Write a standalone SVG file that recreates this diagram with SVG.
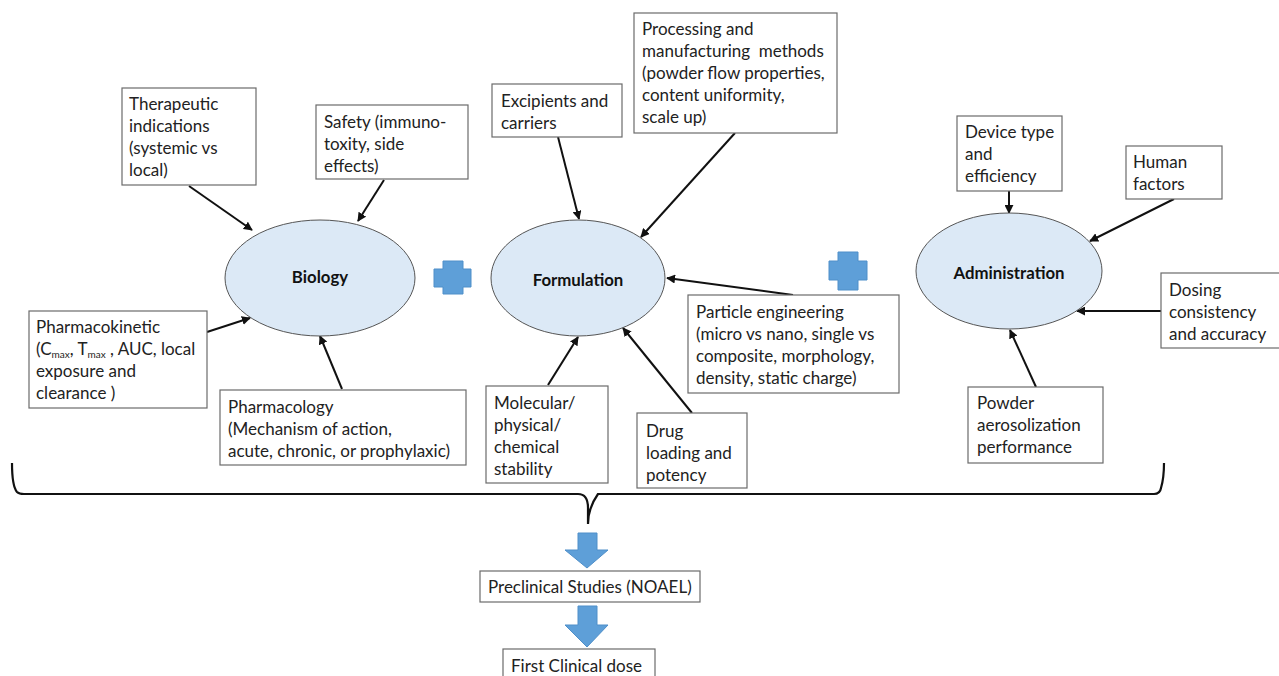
<svg xmlns="http://www.w3.org/2000/svg" width="1279" height="676" viewBox="0 0 1279 676">
<defs>
<style>
.box{fill:#fff;stroke:#6b6b6b;stroke-width:1.2}
.ell{fill:#dce9f6;stroke:#555;stroke-width:1}
.t{font-family:Lato,"Open Sans","Liberation Sans",sans-serif;font-size:17px;fill:#222}
.b{font-family:Lato,"Open Sans","Liberation Sans",sans-serif;font-size:16.8px;font-weight:bold;fill:#111;text-anchor:middle}
.sub{font-size:10px}
.con{stroke:#111;stroke-width:2;fill:none;marker-end:url(#ah)}
.plus{fill:#5e9fd8;stroke:#4f8fc9;stroke-width:1}
.brace{stroke:#111;stroke-width:2.2;fill:none}
</style>
<marker id="ah" viewBox="0 0 10 10" refX="9" refY="5" markerWidth="4.5" markerHeight="4.5" orient="auto" markerUnits="strokeWidth">
<path d="M0,0 L10,5 L0,10 z" fill="#111"/>
</marker>
</defs>
<rect width="1279" height="676" fill="#fff"/>

<g id="connectors">
<line class="con" x1="189" y1="186" x2="252" y2="230"/>
<line class="con" x1="384" y1="180" x2="358" y2="221"/>
<line class="con" x1="207" y1="332" x2="250" y2="318"/>
<line class="con" x1="342" y1="389" x2="320" y2="336"/>
<line class="con" x1="558" y1="137" x2="579" y2="219"/>
<line class="con" x1="735" y1="133" x2="641" y2="237"/>
<line class="con" x1="793" y1="295" x2="667" y2="278"/>
<line class="con" x1="548" y1="385" x2="578" y2="337"/>
<line class="con" x1="692" y1="413" x2="623" y2="328"/>
<line class="con" x1="1009" y1="191" x2="1009" y2="213"/>
<line class="con" x1="1174" y1="199" x2="1090" y2="241"/>
<line class="con" x1="1161" y1="311" x2="1077" y2="311"/>
<line class="con" x1="1036" y1="387" x2="1010" y2="330"/>
</g>

<g id="biology">
<ellipse class="ell" cx="320" cy="278" rx="95" ry="58"/>
<text class="b" x="320" y="283">Biology</text>
</g>
<g id="therapeutic">
<rect class="box" x="122" y="88" width="134" height="97"/>
<text class="t" x="129" y="110">Therapeutic</text>
<text class="t" x="129" y="132">indications</text>
<text class="t" x="129" y="154">(systemic vs</text>
<text class="t" x="129" y="176">local)</text>
</g>
<g id="safety">
<rect class="box" x="316" y="105" width="152" height="74"/>
<text class="t" x="324" y="128">Safety (immuno-</text>
<text class="t" x="324" y="150">toxity, side</text>
<text class="t" x="324" y="172">effects)</text>
</g>
<g id="pharmacokinetic">
<rect class="box" x="29" y="311" width="178" height="97"/>
<text class="t" x="36" y="333">Pharmacokinetic</text>
<text class="t" x="36" y="355">(C<tspan class="sub" dy="3">max</tspan><tspan dy="-3">, T</tspan><tspan class="sub" dy="3">max</tspan><tspan dy="-3"> , AUC, local</tspan></text>
<text class="t" x="36" y="377">exposure and</text>
<text class="t" x="36" y="399">clearance )</text>
</g>
<g id="pharmacology">
<rect class="box" x="220" y="390" width="246" height="75"/>
<text class="t" x="228" y="413">Pharmacology</text>
<text class="t" x="228" y="435">(Mechanism of action,</text>
<text class="t" x="228" y="457">acute, chronic, or prophylaxic)</text>
</g>

<g id="plus1">
<path class="plus" d="M443,261 H463 V269 H471 V287 H463 V294 H443 V287 H434 V269 H443 Z"/>
</g>

<g id="formulation">
<ellipse class="ell" cx="578" cy="278" rx="87" ry="58"/>
<text class="b" x="578" y="286">Formulation</text>
</g>
<g id="excipients">
<rect class="box" x="492" y="84" width="130" height="53"/>
<text class="t" x="501" y="107">Excipients and</text>
<text class="t" x="501" y="129">carriers</text>
</g>
<g id="processing">
<rect class="box" x="634" y="13" width="203" height="120"/>
<text class="t" x="642" y="35">Processing and</text>
<text class="t" x="642" y="57" xml:space="preserve">manufacturing  methods</text>
<text class="t" x="642" y="79">(powder flow properties,</text>
<text class="t" x="642" y="101">content uniformity,</text>
<text class="t" x="642" y="123">scale up)</text>
</g>
<g id="particle">
<rect class="box" x="688" y="295" width="211" height="98"/>
<text class="t" x="696" y="318">Particle engineering</text>
<text class="t" x="696" y="340">(micro vs nano, single vs</text>
<text class="t" x="696" y="362">composite, morphology,</text>
<text class="t" x="696" y="384">density, static charge)</text>
</g>
<g id="molecular">
<rect class="box" x="486" y="386" width="122" height="97"/>
<text class="t" x="494" y="409">Molecular/</text>
<text class="t" x="494" y="431">physical/</text>
<text class="t" x="494" y="453">chemical</text>
<text class="t" x="494" y="475">stability</text>
</g>
<g id="drug">
<rect class="box" x="637" y="413" width="110" height="75"/>
<text class="t" x="646" y="437">Drug</text>
<text class="t" x="646" y="459">loading and</text>
<text class="t" x="646" y="481">potency</text>
</g>

<g id="plus2">
<path class="plus" d="M838,252 H858 V261 H867 V280 H858 V290 H838 V280 H829 V261 H838 Z"/>
</g>

<g id="administration">
<ellipse class="ell" cx="1009" cy="271" rx="93" ry="58"/>
<text class="b" x="1009" y="279">Administration</text>
</g>
<g id="device">
<rect class="box" x="957" y="116" width="105" height="75"/>
<text class="t" x="965" y="138">Device type</text>
<text class="t" x="965" y="160">and</text>
<text class="t" x="965" y="182">efficiency</text>
</g>
<g id="human">
<rect class="box" x="1126" y="146" width="96" height="53"/>
<text class="t" x="1133" y="168">Human</text>
<text class="t" x="1133" y="190">factors</text>
</g>
<g id="dosing">
<rect class="box" x="1161" y="273" width="122" height="75"/>
<text class="t" x="1169" y="296">Dosing</text>
<text class="t" x="1169" y="318">consistency</text>
<text class="t" x="1169" y="340">and accuracy</text>
</g>
<g id="powder">
<rect class="box" x="968" y="387" width="135" height="76"/>
<text class="t" x="977" y="409">Powder</text>
<text class="t" x="977" y="431">aerosolization</text>
<text class="t" x="977" y="453">performance</text>
</g>

<g id="brace">
<path class="brace" d="M12,463 Q12,486 17,492 Q19,494 24,494 H578 Q588,494 588,508 V524 Q588,508 598,494 H1154 Q1160,494 1161,488 Q1164,478 1164,463"/>
</g>

<g id="arrow1">
<path class="plus" d="M578,533 H597 V550 H608 L587,568 L565,550 H578 Z"/>
</g>
<g id="preclinical">
<rect class="box" x="480" y="571" width="220" height="31"/>
<text class="t" x="488" y="593">Preclinical Studies (NOAEL)</text>
</g>
<g id="arrow2">
<path class="plus" d="M578,606 H597 V625 H608 L587,647 L565,625 H578 Z"/>
</g>
<g id="firstclinical">
<rect class="box" x="503" y="649" width="152" height="40"/>
<text class="t" x="511" y="672">First Clinical dose</text>
</g>
</svg>
